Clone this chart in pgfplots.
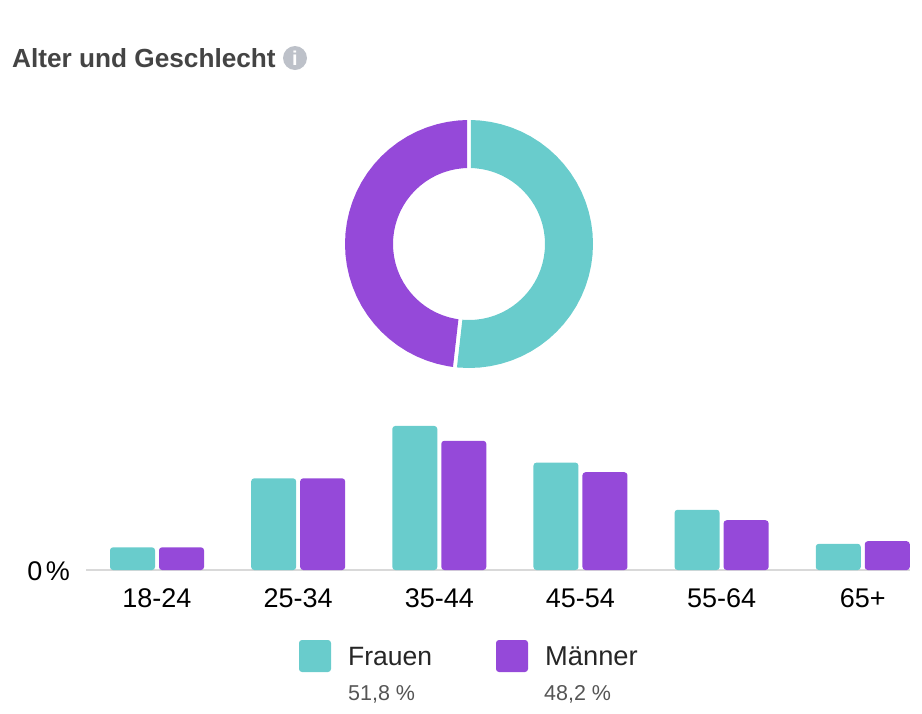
\documentclass[border=0pt]{standalone}
\usepackage{pgfplots}
\pgfplotsset{compat=1.18}
\usepackage{fontspec}
\setmainfont{Liberation Sans}
\definecolor{frauen}{HTML}{69CCCC}
\definecolor{maenner}{HTML}{9549D9}
\definecolor{titlegrey}{HTML}{444444}
\definecolor{subgrey}{HTML}{555555}
\definecolor{icongrey}{HTML}{BDC1C9}
\definecolor{baseline}{HTML}{D9D9D9}
\begin{document}
\begin{tikzpicture}[x=1pt,y=1pt]
\useasboundingbox (0,0) rectangle (922,-713);
% title
\node[anchor=base west,inner sep=0,text=titlegrey,font=\fontsize{26.2}{26.2}\selectfont\bfseries] at (12,-67) {Alter und Geschlecht};
\fill[icongrey] (295,-58) circle (12);
\node[anchor=base,inner sep=0,text=white,font=\fontsize{20}{20}\selectfont\bfseries] at (295,-65) {i};
% donut
\begin{axis}[
  at={(345pt,-368pt)},anchor=south west,
  scale only axis,width=248pt,height=248pt,
  xmin=-124,xmax=124,ymin=-124,ymax=124,
  hide axis,clip=false]
\addplot[fill=frauen,draw=none,data cs=polar] coordinates {
 (89.08,124)(85,124)(80,124)(75,124)(70,124)(65,124)(60,124)(55,124)(50,124)(45,124)
 (40,124)(35,124)(30,124)(25,124)(20,124)(15,124)(10,124)(5,124)(0,124)
 (-5,124)(-10,124)(-15,124)(-20,124)(-25,124)(-30,124)(-35,124)(-40,124)(-45,124)
 (-50,124)(-55,124)(-60,124)(-65,124)(-70,124)(-75,124)(-80,124)(-85,124)(-90,124)(-95,124)(-95.58,124)
 (-95,76)(-90,76)(-85,76)(-80,76)(-75,76)(-70,76)(-65,76)(-60,76)(-55,76)(-50,76)
 (-45,76)(-40,76)(-35,76)(-30,76)(-25,76)(-20,76)(-15,76)(-10,76)(-5,76)(0,76)
 (5,76)(10,76)(15,76)(20,76)(25,76)(30,76)(35,76)(40,76)(45,76)(50,76)(55,76)(60,76)
 (65,76)(70,76)(75,76)(80,76)(85,76)(88.5,76)
} --cycle;
\addplot[fill=maenner,draw=none,data cs=polar] coordinates {
 (-97.42,124)(-100,124)(-105,124)(-110,124)(-115,124)(-120,124)(-125,124)(-130,124)(-135,124)
 (-140,124)(-145,124)(-150,124)(-155,124)(-160,124)(-165,124)(-170,124)(-175,124)(-180,124)
 (-185,124)(-190,124)(-195,124)(-200,124)(-205,124)(-210,124)(-215,124)(-220,124)(-225,124)
 (-230,124)(-235,124)(-240,124)(-245,124)(-250,124)(-255,124)(-260,124)(-265,124)(-269.08,124)
 (-268.5,76)(-265,76)(-260,76)(-255,76)(-250,76)(-245,76)(-240,76)(-235,76)(-230,76)(-225,76)
 (-220,76)(-215,76)(-210,76)(-205,76)(-200,76)(-195,76)(-190,76)(-185,76)(-180,76)
 (-175,76)(-170,76)(-165,76)(-160,76)(-155,76)(-150,76)(-145,76)(-140,76)(-135,76)
 (-130,76)(-125,76)(-120,76)(-115,76)(-110,76)(-105,76)(-100,76)(-98,76)
} --cycle;
\end{axis}
% bars
\begin{axis}[
  at={(86pt,-570pt)},anchor=south west,
  scale only axis,width=824pt,height=165pt,
  xmin=-0.503,xmax=5.3347,
  ymin=0.5,ymax=19.4,
  y filter/.expression={y+0.5},
  ybar,bar width=45pt,
  axis x line=bottom,axis y line=none,
  x axis line style={draw=baseline,line width=2pt,-},
  xtick={0,1,2,3,4,5},
  xticklabels={18-24,25-34,35-44,45-54,55-64,65+},
  major tick length=0pt,
  xticklabel style={font=\fontsize{27}{27}\selectfont,anchor=base,inner sep=0,yshift=-37pt,text=black},
  clip=true]
\addplot[fill=frauen,draw=none,rounded corners=3pt,bar shift=-24.5pt] coordinates {
 (0,2.6)(1,10.5)(2,16.5)(3,12.3)(4,6.9)(5,3.0)};
\addplot[fill=maenner,draw=none,rounded corners=3pt,bar shift=24.5pt] coordinates {
 (0,2.6)(1,10.5)(2,14.8)(3,11.2)(4,5.7)(5,3.3)};
\end{axis}
\node[anchor=base east,inner sep=0,text=black,font=\fontsize{27}{27}\selectfont] at (70,-580) {0\hspace{-4pt} \%};
% legend
\fill[frauen,rounded corners=3pt] (299,-640) rectangle (331,-672);
\fill[maenner,rounded corners=3pt] (496,-640) rectangle (528,-672);
\node[anchor=base west,inner sep=0,text=black!85,font=\fontsize{26.5}{26.5}\selectfont] at (348,-665) {Frauen};
\node[anchor=base west,inner sep=0,text=black!85,font=\fontsize{27.3}{27.3}\selectfont] at (545,-665) {Männer};
\node[anchor=base west,inner sep=0,text=subgrey,font=\fontsize{21.5}{21.5}\selectfont] at (348,-700) {51,8 \%};
\node[anchor=base west,inner sep=0,text=subgrey,font=\fontsize{21.5}{21.5}\selectfont] at (544,-700) {48,2 \%};
\end{tikzpicture}
\end{document}
